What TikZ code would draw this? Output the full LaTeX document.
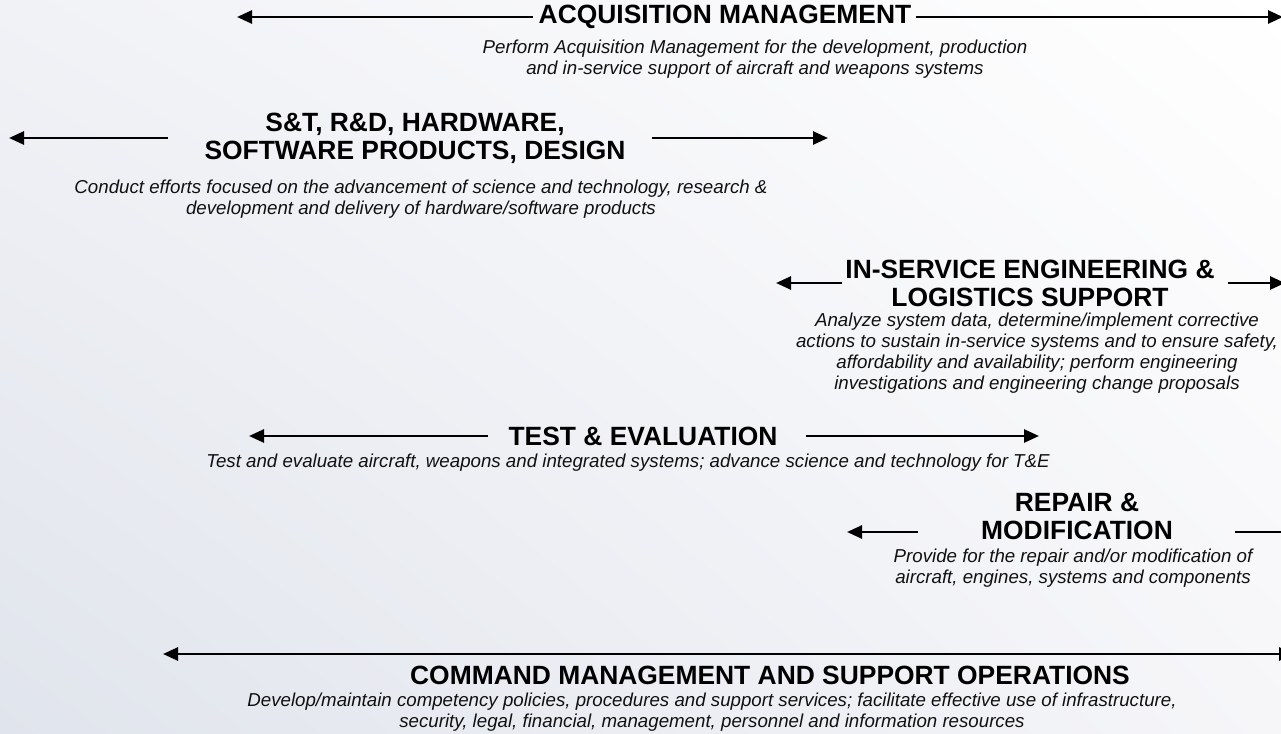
\documentclass[tikz,border=0pt]{standalone}
\usepackage{fontspec}
\setmainfont{Liberation Sans}
\usetikzlibrary{arrows.meta,shadings}
\definecolor{bgUL}{RGB}{241,242,246}
\definecolor{bgLL}{RGB}{224,228,236}
\definecolor{bgLR}{RGB}{246,246,249}
\definecolor{dsctext}{RGB}{17,17,17}
\begin{document}
\begin{tikzpicture}[x=1pt,y=-1pt,
  ttl/.style={font=\bfseries\fontsize{26.4}{28}\selectfont, align=center, inner sep=0pt},
  dsc/.style={font=\itshape\fontsize{18.7}{20.8}\selectfont, align=center, inner sep=0pt, text=dsctext},
  arr/.style={line width=2.6pt, -{Triangle[length=15pt,width=13pt]}},
  arrboth/.style={line width=2.6pt, {Triangle[length=15pt,width=13pt]}-{Triangle[length=15pt,width=13pt]}}]
\shade[upper left=bgUL, upper right=white, lower left=bgLL, lower right=bgLR] (0,0) rectangle (1281,733);
\useasboundingbox (0,0) rectangle (1281,733);

% ACQUISITION MANAGEMENT
\node[ttl] (acq) at (725,17) {ACQUISITION MANAGEMENT};
\node[dsc] (acqd) at (755,59) {Perform Acquisition Management for the development, production\\and in-service support of aircraft and weapons systems};
\coordinate (acqLs) at (533,17); \coordinate (acqLt) at (237,17);
\coordinate (acqRs) at (916,17); \coordinate (acqRt) at (1283,17);
\draw[arr] (acqLs) -- (acqLt);
\draw[arr] (acqRs) -- (acqRt);

% S&T
\node[ttl] (st) at (415,138) {S\&T, R\&D, HARDWARE,\\SOFTWARE PRODUCTS, DESIGN};
\node[dsc] (std) at (421,199) {Conduct efforts focused on the advancement of science and technology, research \&\\development and delivery of hardware/software products};
\coordinate (stLs) at (168,138); \coordinate (stLt) at (9,138);
\coordinate (stRs) at (652,138); \coordinate (stRt) at (828,138);
\draw[arr] (stLs) -- (stLt);
\draw[arr] (stRs) -- (stRt);

% IN-SERVICE
\node[ttl] (ise) at (1030,283) {IN-SERVICE ENGINEERING \&\\LOGISTICS SUPPORT};
\node[dsc] (ised) at (1037,353) {Analyze system data, determine/implement corrective\\actions to sustain in-service systems and to ensure safety,\\affordability and availability; perform engineering\\investigations and engineering change proposals};
\coordinate (iseLs) at (842,283); \coordinate (iseLt) at (776,283);
\coordinate (iseRs) at (1228,283); \coordinate (iseRt) at (1285,283);
\draw[arr] (iseLs) -- (iseLt);
\draw[arr] (iseRs) -- (iseRt);

% TEST & EVALUATION
\node[ttl] (te) at (643,436) {TEST \& EVALUATION};
\node[dsc] (ted) at (628,463) {Test and evaluate aircraft, weapons and integrated systems; advance science and technology for T\&E};
\coordinate (teLs) at (488,436); \coordinate (teLt) at (249,436);
\coordinate (teRs) at (806,436); \coordinate (teRt) at (1039,436);
\draw[arr] (teLs) -- (teLt);
\draw[arr] (teRs) -- (teRt);

% REPAIR & MODIFICATION
\node[ttl] (rm) at (1077,516) {REPAIR \&\\MODIFICATION};
\node[dsc] (rmd) at (1073,568) {Provide for the repair and/or modification of\\aircraft, engines, systems and components};
\coordinate (rmLs) at (918,532); \coordinate (rmLt) at (847,532);
\coordinate (rmRs) at (1235,532); \coordinate (rmRt) at (1299,532);
\draw[arr] (rmLs) -- (rmLt);
\draw[arr] (rmRs) -- (rmRt);

% COMMAND MANAGEMENT
\node[ttl] (cm) at (770,675) {COMMAND MANAGEMENT AND SUPPORT OPERATIONS};
\node[dsc] (cmd) at (712,712) {Develop/maintain competency policies, procedures and support services; facilitate effective use of infrastructure,\\security, legal, financial, management, personnel and information resources};
\coordinate (cmLt) at (163,654); \coordinate (cmRt) at (1294,654);
\draw[arrboth] (cmLt) -- (cmRt);
\end{tikzpicture}
\end{document}
